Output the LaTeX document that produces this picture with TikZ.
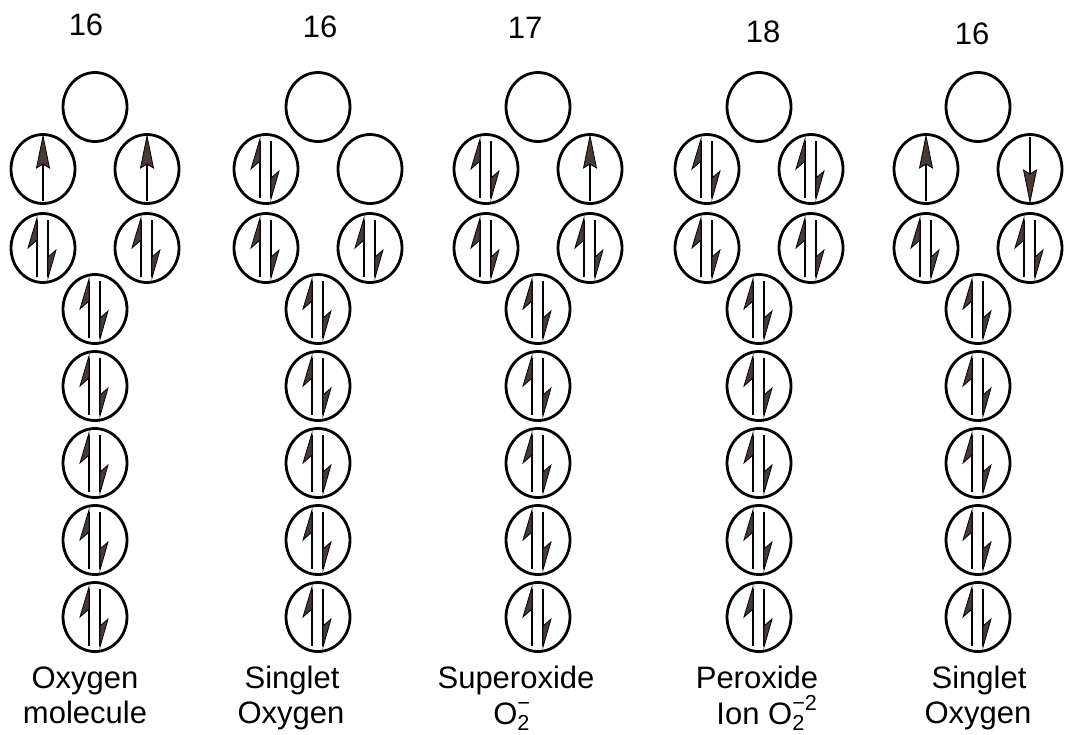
\documentclass[tikz,border=0pt]{standalone}
\usepackage{fontspec}
\usepackage{amsmath}
\setmainfont{Liberation Sans}
\usetikzlibrary{shapes.geometric}
\definecolor{barbc}{RGB}{72,58,54}
\tikzset{
  orb/.style={ellipse, draw, line width=2.8pt, minimum width=64pt, minimum height=69pt, inner sep=0pt},
  eline/.style={line width=2.3pt, line cap=butt},
  barb/.style={fill=barbc, draw=black, line width=0.8pt, line join=miter},
  lab/.style={font=\fontsize{31}{37}\selectfont, anchor=base, inner sep=0pt},
}
\newcommand\OrbPair[1]{%
  \begin{scope}[shift={(#1.center)}]
    \draw[eline] (-6,29) -- (-6,-28);
    \filldraw[barb] (-6,-30) -- (-15,0) -- (-6,-8) -- cycle;
    \draw[eline] (5,-28) -- (5,29);
    \filldraw[barb] (5,30) -- (13,2) -- (5,9) -- cycle;
  \end{scope}}
\newcommand\OrbUp[1]{%
  \begin{scope}[shift={(#1.center)}]
    \draw[eline] (0,32) -- (0,-12);
    \filldraw[barb] (0,-33) -- (-6.5,-1) -- (0,-5) -- (6.5,-1) -- cycle;
  \end{scope}}
\newcommand\OrbDown[1]{%
  \begin{scope}[shift={(#1.center)}]
    \draw[eline] (0,-32) -- (0,12);
    \filldraw[barb] (0,33) -- (-6.5,1) -- (0,5) -- (6.5,1) -- cycle;
  \end{scope}}
\begin{document}
\begin{tikzpicture}[x=1pt,y=-1pt]
\fill[white] (0,0) rectangle (1067,734);
\useasboundingbox (0,0) rectangle (1067,734);
% orbitals
\foreach \c/\X in {1/95,2/318,3/538,4/759,5/978}{
  \node[orb] (c\c-t) at (\X,107) {};
  \node[orb] (c\c-l1) at (\X-52,169) {};
  \node[orb] (c\c-r1) at (\X+52,169) {};
  \node[orb] (c\c-l2) at (\X-52,248) {};
  \node[orb] (c\c-r2) at (\X+52,248) {};
  \foreach \k in {1,...,5}{
    \node[orb] (c\c-s\k) at (\X,232+77*\k) {};
  }
}
% filled pairs common to all columns
\foreach \c in {1,...,5}{
  \OrbPair{c\c-l2}
  \OrbPair{c\c-r2}
  \foreach \k in {1,...,5}{\OrbPair{c\c-s\k}}
}
% column specific
\OrbUp{c1-l1}\OrbUp{c1-r1}
\OrbPair{c2-l1}
\OrbPair{c3-l1}\OrbUp{c3-r1}
\OrbPair{c4-l1}\OrbPair{c4-r1}
\OrbUp{c5-l1}\OrbDown{c5-r1}
% numbers
\node[lab] (n1) at (86,35) {16};
\node[lab] (n2) at (320,37) {16};
\node[lab] (n3) at (525,38) {17};
\node[lab] (n4) at (763,42) {18};
\node[lab] (n5) at (972,44) {16};
% labels
\node[lab] (a1) at (85,688) {Oxygen};
\node[lab] (b1) at (85,723) {molecule};
\node[lab] (a2) at (292,688) {Singlet};
\node[lab] (b2) at (291,723) {Oxygen};
\node[lab] (a3) at (516,688) {Superoxide};
\node[lab] (b3) at (512,724) {$\text{O}_{\text{2}}^{\text{−}}$};
\node[lab] (a4) at (757,688) {Peroxide};
\node[lab] (b4) at (767,724) {Ion $\text{O}_{\text{2}}^{\text{−2}}$};
\node[lab] (a5) at (979,688) {Singlet};
\node[lab] (b5) at (978,723) {Oxygen};
\end{tikzpicture}
\end{document}
